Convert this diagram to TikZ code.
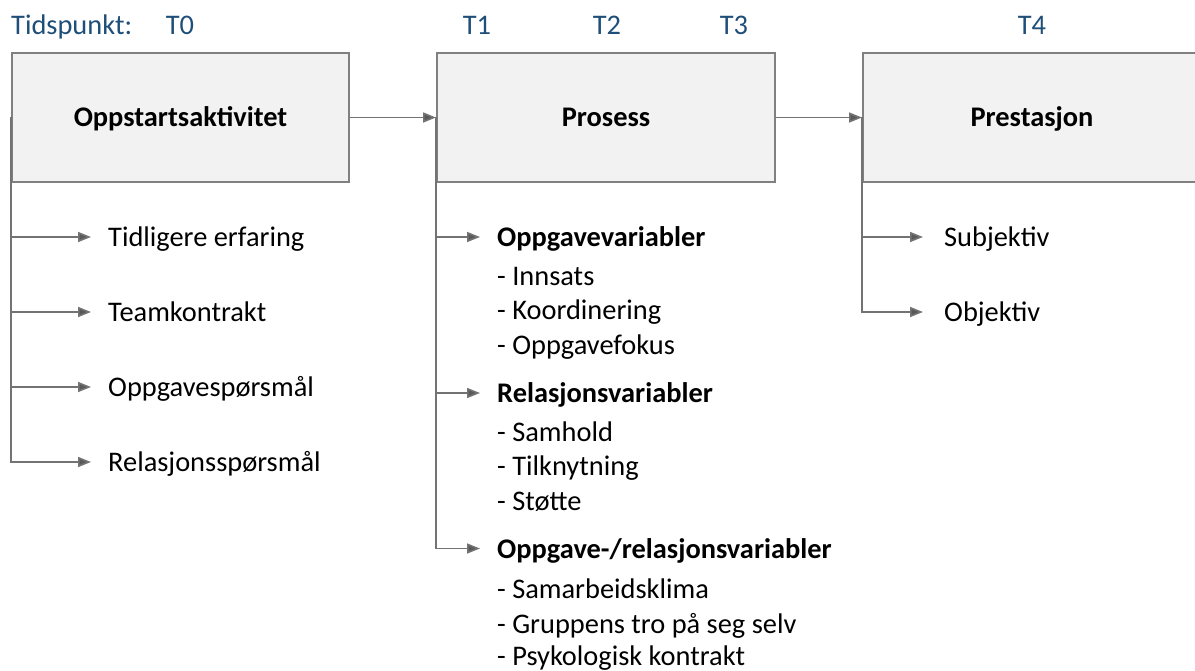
\documentclass[tikz,border=0pt]{standalone}
\usepackage{fontspec}
\setmainfont{Carlito}
\usetikzlibrary{arrows.meta}
\definecolor{tblue}{RGB}{31,78,121}
\definecolor{boxfill}{RGB}{242,242,242}
\definecolor{boxline}{RGB}{128,128,128}
\definecolor{arrline}{RGB}{115,115,115}
\definecolor{arrhead}{RGB}{89,89,89}
\begin{document}
\begin{tikzpicture}[x=1pt,y=-1pt,
  every node/.style={font=\fontsize{28.4}{34}\selectfont},
  mainbox/.style={draw=boxline,line width=2pt,fill=boxfill,minimum height=129pt,inner sep=0pt,text height=19pt,text depth=0pt,font=\fontsize{28.4}{34}\selectfont\bfseries},
  lbl/.style={anchor=west,inner sep=0pt,text height=19pt,text depth=0pt},
  tlbl/.style={anchor=base,inner sep=0pt,text=tblue},
  arr/.style={draw=arrline,line width=1.6pt,-{Triangle[length=13pt,width=10pt,fill=arrhead]}}
]
\useasboundingbox (0,0) rectangle (1195,671);
% time labels
\node[tlbl,anchor=base west] (tid) at (11,35) {Tidspunkt:};
\node[tlbl] (t0) at (180,35) {T0};
\node[tlbl] (t1) at (477,35) {T1};
\node[tlbl] (t2) at (607,35) {T2};
\node[tlbl] (t3) at (734,35) {T3};
\node[tlbl] (t4) at (1032,35) {T4};
% boxes
\node[mainbox,minimum width=337pt] (b1) at (180.5,117.5) {Oppstartsaktivitet};
\node[mainbox,minimum width=338pt] (b2) at (606,117.5) {Prosess};
\begin{scope}
\clip (0,0) rectangle (1195,671);
\node[mainbox,minimum width=338pt] (b3) at (1032,117.5) {Prestasjon};
\end{scope}
% main arrows
\draw[arr] (b1.east) -- (b2.west);
\draw[arr] (b2.east) -- (b3.west);
% left column
\node[lbl] (a1) at (108,237) {Tidligere erfaring};
\node[lbl] (a2) at (108,312) {Teamkontrakt};
\node[lbl] (a3) at (108,387) {Oppgavespørsmål};
\node[lbl] (a4) at (108,462) {Relasjonsspørsmål};
\foreach \n in {a1,a2,a3,a4}{
  \draw[arr] (b1.west) |- ([xshift=-17pt]\n.west);
}
% middle column
\node[lbl,font=\fontsize{28.4}{34}\selectfont\bfseries] (h1) at (497,237) {Oppgavevariabler};
\node[lbl] (h1a) at (497,276) {- Innsats};
\node[lbl] (h1b) at (497,310) {- Koordinering};
\node[lbl] (h1c) at (497,344.5) {- Oppgavefokus};
\node[lbl,font=\fontsize{28.4}{34}\selectfont\bfseries] (h2) at (497,393) {Relasjonsvariabler};
\node[lbl] (h2a) at (497,431.5) {- Samhold};
\node[lbl] (h2b) at (497,466) {- Tilknytning};
\node[lbl] (h2c) at (497,500.5) {- Støtte};
\node[lbl,font=\fontsize{28.4}{34}\selectfont\bfseries] (h3) at (497,548.5) {Oppgave-/relasjonsvariabler};
\node[lbl] (h3a) at (497,589) {- Samarbeidsklima};
\node[lbl] (h3b) at (497,623.5) {- Gruppens tro på seg selv};
\node[lbl] (h3c) at (497,656) {- Psykologisk kontrakt};
\foreach \n in {h1,h2,h3}{
  \draw[arr] (b2.west) |- ([xshift=-17pt]\n.west);
}
% right column
\node[lbl] (c1) at (944,237) {Subjektiv};
\node[lbl] (c2) at (944,312) {Objektiv};
\foreach \n in {c1,c2}{
  \draw[arr] (b3.west) |- ([xshift=-21pt]\n.west);
}
\end{tikzpicture}
\end{document}
